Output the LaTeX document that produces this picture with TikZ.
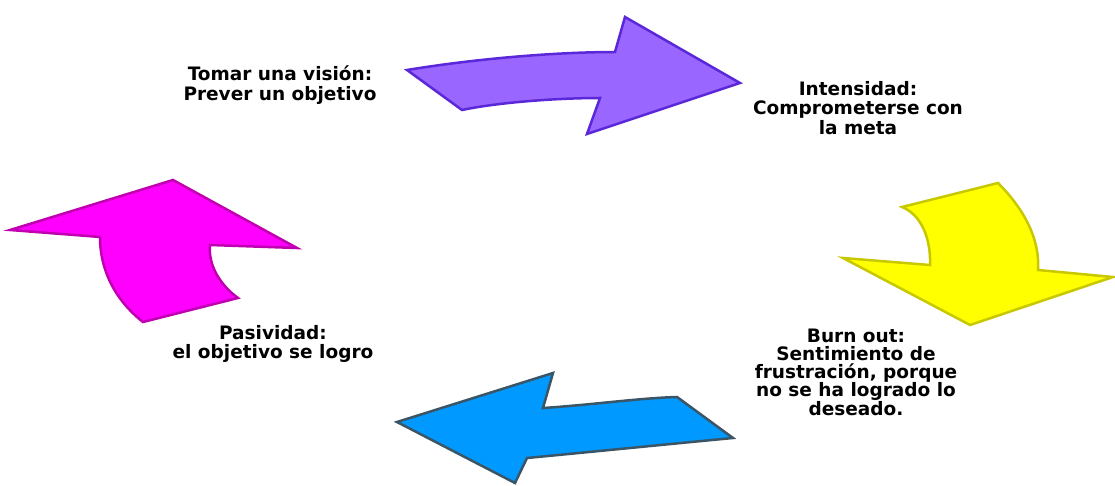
\documentclass[tikz,border=0pt]{standalone}
\usepackage{fontspec}
\setmainfont{DejaVu Sans}
\begin{document}
\begin{tikzpicture}[x=1pt,y=-1pt,
  lbl/.style={align=center,font=\fontsize{18.5}{19.5}\selectfont\bfseries,text=black,inner sep=0pt},
  tight/.style={font=\fontsize{18.5}{18.3}\selectfont\bfseries},
  arr/.style={line width=2.5pt,line join=miter}]
\useasboundingbox (0,0) rectangle (1115,486);
\definecolor{pfill}{HTML}{9966FF}\definecolor{pline}{HTML}{5A28D8}
\definecolor{yfill}{HTML}{FFFF00}\definecolor{yline}{HTML}{C8C800}
\definecolor{bfill}{HTML}{0099FF}\definecolor{bline}{HTML}{3A5566}
\definecolor{mfill}{HTML}{FF00FF}\definecolor{mline}{HTML}{C000B0}
% purple
\draw[arr,fill=pfill,draw=pline] (407,70) .. controls (480,58) and (560,52) .. (615,52) -- (625,17) -- (740,83) -- (587,134) -- (600,98) .. controls (560,98) and (500,102) .. (462,110) -- cycle;
% yellow
\draw[arr,fill=yfill,draw=yline] (902,207) -- (998,183) .. controls (1025,210) and (1040,240) .. (1038,270) -- (1113,277) -- (970,325) -- (843,258) -- (930,265) .. controls (931,240) and (922,215) .. (902,207) -- cycle;
% blue
\draw[arr,fill=bfill,draw=bline] (397,422) -- (553,373) -- (543,408) .. controls (590,405) and (640,398) .. (677,397) -- (733,438) .. controls (670,444) and (590,452) .. (527,458) -- (515,483) -- cycle;
% magenta
\draw[arr,fill=mfill,draw=mline] (10,230) -- (173,180) -- (297,248) -- (210,245) .. controls (208,265) and (220,285) .. (238,298) -- (143,322) .. controls (115,300) and (100,270) .. (100,237) -- cycle;
% labels
\node[lbl] (t1) at (280,85) {Tomar una visión:\\Prever un objetivo};
\node[lbl] (t2) at (858,108) {Intensidad:\\Comprometerse con\\la meta};
\node[lbl,tight] (t3) at (856,372) {Burn out:\\Sentimiento de\\frustración, porque\\no se ha logrado lo\\deseado.};
\node[lbl,tight] (t4) at (273,344) {Pasividad:\\el objetivo se logro};
\end{tikzpicture}
\end{document}
